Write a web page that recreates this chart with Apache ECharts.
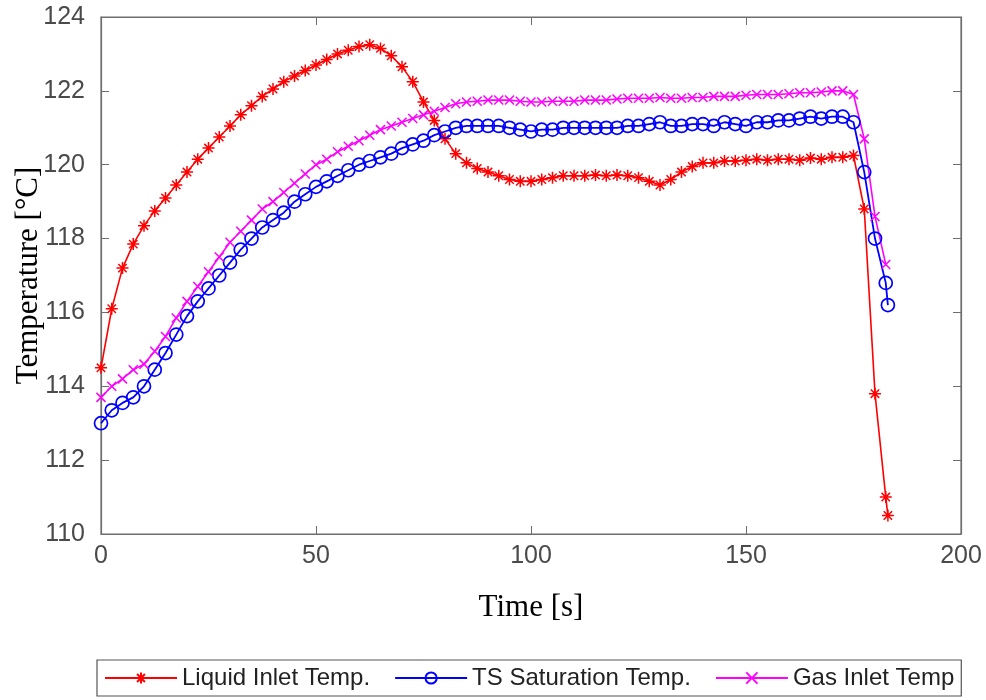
<!DOCTYPE html>
<html>
<head>
<meta charset="utf-8">
<script src="https://cdn.jsdelivr.net/npm/echarts@6/dist/echarts.min.js"></script>
<style>html,body{margin:0;padding:0;background:#fff}#c{width:986px;height:700px}</style>
</head>
<body>
<div id="c"></div>
<script>
const timeS = [0,2.5,5,7.5,10,12.5,15,17.5,20,22.5,25,27.5,30,32.5,35,37.5,40,42.5,45,47.5,50,52.5,55,57.5,60,62.5,65,67.5,70,72.5,75,77.5,80,82.5,85,87.5,90,92.5,95,97.5,100,102.5,105,107.5,110,112.5,115,117.5,120,122.5,125,127.5,130,132.5,135,137.5,140,142.5,145,147.5,150,152.5,155,157.5,160,162.5,165,167.5,170,172.5,175,177.5,180,182.5,183];
const liquidInlet = [114.5,116.1,117.2,117.85,118.35,118.75,119.1,119.45,119.8,120.15,120.45,120.75,121.05,121.35,121.6,121.85,122.05,122.25,122.4,122.55,122.7,122.85,123.0,123.1,123.2,123.25,123.15,122.95,122.65,122.25,121.7,121.2,120.7,120.3,120.05,119.9,119.8,119.7,119.6,119.55,119.55,119.6,119.65,119.7,119.7,119.7,119.72,119.7,119.72,119.7,119.65,119.55,119.45,119.6,119.8,119.95,120.05,120.05,120.1,120.1,120.12,120.15,120.12,120.15,120.15,120.12,120.18,120.15,120.2,120.2,120.25,118.8,113.8,111.0,110.5];
const tsSaturation = [113.0,113.35,113.55,113.7,114.0,114.45,114.9,115.4,115.9,116.3,116.65,117.0,117.35,117.7,118.0,118.3,118.5,118.7,119.0,119.2,119.4,119.55,119.7,119.85,120.0,120.1,120.2,120.3,120.45,120.55,120.65,120.8,120.9,121.0,121.05,121.05,121.05,121.05,121.0,120.95,120.9,120.95,120.95,121.0,121.0,121.0,121.0,121.0,121.0,121.05,121.05,121.1,121.15,121.05,121.05,121.1,121.1,121.05,121.15,121.1,121.05,121.15,121.15,121.2,121.2,121.25,121.3,121.25,121.3,121.3,121.15,119.8,118.0,116.8,116.2];
const gasInlet = [113.7,114.0,114.2,114.45,114.6,114.95,115.35,115.85,116.3,116.7,117.1,117.5,117.9,118.2,118.5,118.8,119.0,119.25,119.5,119.75,120.0,120.15,120.35,120.5,120.65,120.8,120.95,121.05,121.15,121.25,121.35,121.45,121.55,121.65,121.7,121.72,121.75,121.75,121.75,121.72,121.7,121.7,121.72,121.72,121.72,121.75,121.75,121.75,121.78,121.8,121.8,121.8,121.82,121.8,121.8,121.82,121.82,121.85,121.85,121.85,121.88,121.9,121.9,121.9,121.92,121.95,121.95,121.97,122.0,122.0,121.9,120.7,118.6,117.3];
const seriesNames = ['Liquid Inlet Temp.','TS Saturation Temp.','Gas Inlet Temp'];
const xTicks = {min:0,max:200,interval:50};
const yTicks = {min:110,max:124,interval:2};

function pairs(vals){ return vals.map((v,i)=>[timeS[i],v]); }

const axisColor = '#6e6e6e';
const labelColor = '#4a4a4a';
const chart = echarts.init(document.getElementById('c'), null, {renderer:'canvas'});
const tickStyle = {show:true,inside:true,length:8,lineStyle:{color:axisColor,width:1}};
chart.setOption({
  animation:false,
  backgroundColor:'#fff',
  grid:{left:101,top:17,width:860,height:517,show:true,borderColor:axisColor,borderWidth:1.2,backgroundColor:'transparent',containLabel:false,outerBoundsMode:'none'},
  xAxis:[
    {type:'value',min:xTicks.min,max:xTicks.max,interval:xTicks.interval,
     axisLine:{show:true,onZero:false,lineStyle:{color:axisColor,width:1.2}},
     axisTick:tickStyle,splitLine:{show:false},
     axisLabel:{color:labelColor,fontFamily:'Liberation Sans',fontSize:25,margin:10},
     name:'Time [s]',nameLocation:'middle',nameGap:58,nameMoveOverlap:false,
     nameTextStyle:{fontFamily:'Liberation Serif',fontSize:31,color:'#000'}},
    {type:'value',position:'top',min:xTicks.min,max:xTicks.max,interval:xTicks.interval,
     axisLine:{show:true,onZero:false,lineStyle:{color:axisColor,width:1.2}},
     axisTick:tickStyle,axisLabel:{show:false},splitLine:{show:false}}
  ],
  yAxis:[
    {type:'value',min:yTicks.min,max:yTicks.max,interval:yTicks.interval,
     axisLine:{show:true,onZero:false,lineStyle:{color:axisColor,width:1.2}},
     axisTick:tickStyle,splitLine:{show:false},
     axisLabel:{color:labelColor,fontFamily:'Liberation Sans',fontSize:25,margin:16},
     name:'Temperature [°C]',nameLocation:'middle',nameGap:57,nameMoveOverlap:false,
     nameTextStyle:{fontFamily:'Liberation Serif',fontSize:31,color:'#000'}},
    {type:'value',position:'right',min:yTicks.min,max:yTicks.max,interval:yTicks.interval,
     axisLine:{show:true,onZero:false,lineStyle:{color:axisColor,width:1.2}},
     axisTick:tickStyle,axisLabel:{show:false},splitLine:{show:false}}
  ],
  legend:{
    left:97,top:660,orient:'horizontal',
    borderColor:'#555',borderWidth:1.2,padding:[6,7,6,7],
    itemWidth:72,itemHeight:14,itemGap:24,
    textStyle:{fontFamily:'Liberation Sans',fontSize:24,color:'#222'},
    data:seriesNames
  },
  series:[
    {name:seriesNames[0],type:'line',data:pairs(liquidInlet),
     symbol:'path://M0,5L10,5M5,0L5,10M1.5,1.5L8.5,8.5M8.5,1.5L1.5,8.5',symbolSize:12,
     lineStyle:{color:'#ff0000',width:1.6},
     itemStyle:{color:'#ff0000',borderColor:'#ff0000',borderWidth:1.5}},
    {name:seriesNames[1],type:'line',data:pairs(tsSaturation),
     symbol:'circle',symbolSize:13,
     lineStyle:{color:'#0000ff',width:1.8},
     itemStyle:{color:'rgba(0,0,0,0)',borderColor:'#0000ff',borderWidth:1.7}},
    {name:seriesNames[2],type:'line',data:pairs(gasInlet),
     symbol:'path://M0,0L10,10M10,0L0,10',symbolSize:9,
     lineStyle:{color:'#ff00ff',width:1.6},
     itemStyle:{color:'#ff00ff',borderColor:'#ff00ff',borderWidth:1.5}}
  ]
});
</script>
</body>
</html>
